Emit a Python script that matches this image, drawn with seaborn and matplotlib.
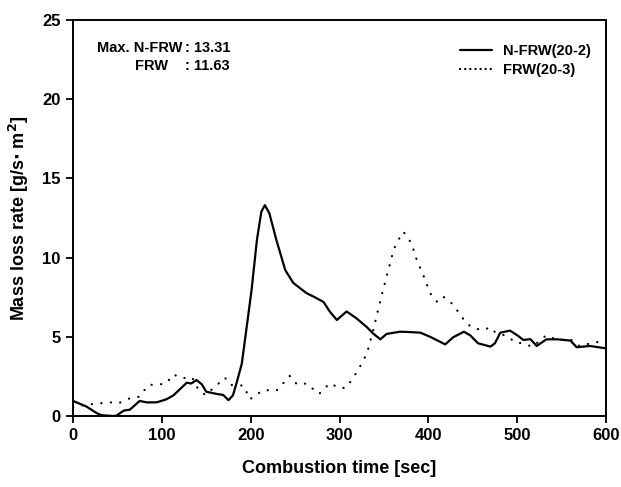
import matplotlib
matplotlib.use("Agg")
import matplotlib.pyplot as plt
import seaborn as sns
import pandas as pd

# N-FRW(20-2), solid curve
nfrw_time = [0, 15, 27, 32, 45, 49, 57, 64, 75, 83, 94, 105, 113, 128, 133, 139, 145,
             150, 162, 169, 175, 180, 184, 190, 195, 201, 207, 212, 216, 221, 229, 239,
             248, 256, 263, 271, 282, 289, 297, 308, 319, 331, 338, 346, 353, 368, 379,
             391, 402, 413, 419, 428, 440, 447, 456, 470, 475, 481, 492, 500, 507, 515,
             522, 533, 545, 560, 567, 582, 600]
nfrw_rate = [0.95, 0.6, 0.17, 0.05, 0.0, 0.02, 0.34, 0.4, 0.95, 0.86, 0.86, 1.05, 1.3,
             2.1, 2.05, 2.27, 2.0, 1.53, 1.39, 1.33, 1.0, 1.3, 2.06, 3.3, 5.4, 7.95, 11.1,
             12.9, 13.31, 12.8, 11.1, 9.2, 8.4, 8.05, 7.75, 7.53, 7.2, 6.6, 6.06, 6.6,
             6.17, 5.6, 5.2, 4.84, 5.18, 5.32, 5.3, 5.26, 5.0, 4.69, 4.52, 4.97, 5.32,
             5.1, 4.59, 4.38, 4.59, 5.26, 5.39, 5.1, 4.8, 4.85, 4.42, 4.84, 4.84, 4.76,
             4.34, 4.42, 4.27]

# FRW(20-3), dotted curve
frw_time = [0, 12, 30, 42, 51, 64, 75, 79, 85, 98, 105, 113, 122, 134, 141, 149, 160,
            171, 177, 192, 199, 214, 229, 244, 252, 263, 267, 277, 289, 301, 308, 321,
            331, 338, 346, 353, 361, 365, 372, 381, 387, 395, 402, 410, 417, 425, 432,
            443, 451, 462, 470, 475, 485, 490, 498, 505, 511, 518, 526, 533, 545, 560,
            571, 582, 600]
frw_rate = [0.53, 0.69, 0.8, 0.86, 0.8, 1.12, 1.22, 1.53, 1.96, 2.0, 2.06, 2.63, 2.38,
            2.44, 1.68, 1.33, 1.85, 2.42, 1.96, 1.92, 1.05, 1.64, 1.6, 2.53, 2.0, 2.05,
            1.85, 1.39, 2.06, 1.75, 1.8, 2.9, 3.96, 5.43, 7.3, 8.8, 10.5, 11.0, 11.63,
            10.9, 9.85, 8.8, 7.75, 7.2, 7.53, 7.2, 6.7, 5.85, 5.53, 5.43, 5.6, 5.3, 5.1,
            5.0, 4.63, 4.6, 4.48, 4.38, 4.8, 5.1, 4.8, 4.84, 4.38, 4.59, 4.76]

x_ticks = [0, 100, 200, 300, 400, 500, 600]
y_ticks = [0, 5, 10, 15, 20, 25]

df_n = pd.DataFrame({"time": nfrw_time, "rate": nfrw_rate})
df_f = pd.DataFrame({"time": frw_time, "rate": frw_rate})

sns.set_style("white")
plt.rcParams["font.family"] = ["Liberation Sans", "DejaVu Sans"]
plt.rcParams["font.weight"] = "bold"
for key in ["text.color", "axes.labelcolor", "xtick.color", "ytick.color"]:
    plt.rcParams[key] = "black"

fig = plt.figure(figsize=(6.21, 4.87), dpi=100)
ax = fig.add_axes([0.1176, 0.1458, 0.8582, 0.8132])

sns.lineplot(data=df_n, x="time", y="rate", color="black", linewidth=1.6,
             label="N-FRW(20-2)", ax=ax)
sns.lineplot(data=df_f, x="time", y="rate", color="black", linewidth=1.6,
             linestyle=(0, (0.1, 4.2)), dash_capstyle="round",
             label="FRW(20-3)", ax=ax)

ax.set_xlim(0, 600)
ax.set_ylim(0, 25)
ax.set_xticks(x_ticks)
ax.set_yticks(y_ticks)
ax.tick_params(direction="out", length=5, width=1.3, labelsize=12,
               bottom=True, left=True, pad=4)
for lab in ax.get_xticklabels() + ax.get_yticklabels():
    lab.set_fontweight("bold")
for sp in ax.spines.values():
    sp.set_linewidth(1.4)
    sp.set_color("black")

ax.set_xlabel("Combustion time [sec]", fontsize=13, fontweight="bold", labelpad=12)
ax.set_ylabel("Mass loss rate [g/s$\\cdot$ m$^2$]", fontsize=13, fontweight="bold",
              labelpad=8)

# peak values box, colons aligned
ax.text(0.045, 0.929, "Max. N-FRW", transform=ax.transAxes,
        fontsize=10.5, fontweight="bold", va="center")
ax.text(0.116, 0.884, "FRW", transform=ax.transAxes,
        fontsize=10.5, fontweight="bold", va="center")
ax.text(0.21, 0.929, ": 13.31", transform=ax.transAxes,
        fontsize=10.5, fontweight="bold", va="center")
ax.text(0.21, 0.884, ": 11.63", transform=ax.transAxes,
        fontsize=10.5, fontweight="bold", va="center")

leg = ax.legend(loc="upper right", bbox_to_anchor=(0.982, 0.955), frameon=False,
                fontsize=10.5, handlelength=2.2, borderaxespad=0,
                labelspacing=0.35, handletextpad=0.7)
for t in leg.get_texts():
    t.set_fontweight("bold")
leg.get_lines()[1].set_linestyle((0, (0.1, 2.2)))

fig.savefig("out.png", dpi=100)
